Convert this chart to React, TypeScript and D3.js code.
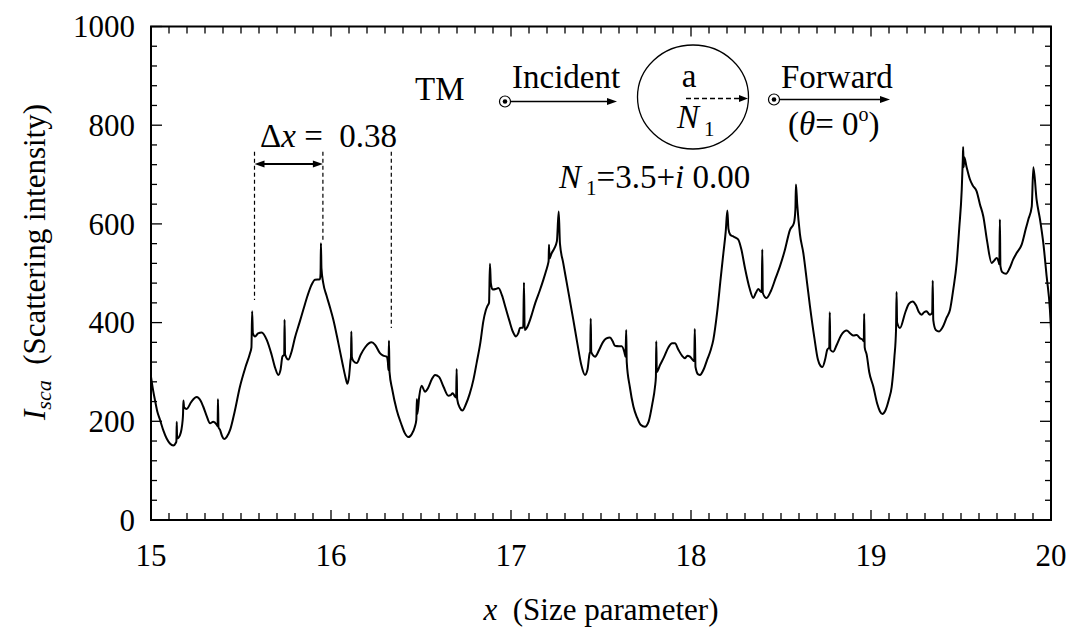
import React from 'react';
import * as d3 from 'd3';

// Size parameter x and scattering intensity I_sca
const sizeParam = [
  15.0, 15.012, 15.022, 15.035, 15.05, 15.07, 15.087, 15.105, 15.124, 15.139, 15.141, 15.143, 15.145, 15.161, 15.176, 15.178, 15.18, 15.184, 15.198, 15.225, 15.254, 15.275, 15.29, 15.31, 15.328, 15.346, 15.365, 15.37, 15.372, 15.375, 15.383, 15.395, 15.406, 15.42, 15.44, 15.465, 15.494, 15.525, 15.55, 15.558, 15.562, 15.566, 15.578, 15.595, 15.615, 15.643, 15.67, 15.69, 15.707, 15.72, 15.73, 15.74, 15.742, 15.745, 15.763, 15.78, 15.8, 15.825, 15.846, 15.87, 15.89, 15.911, 15.939, 15.942, 15.944, 15.947, 15.957, 15.975, 15.995, 16.013, 16.04, 16.065, 16.08, 16.091, 16.1, 16.109, 16.111, 16.113, 16.116, 16.125, 16.143, 16.165, 16.19, 16.21, 16.226, 16.245, 16.272, 16.29, 16.309, 16.316, 16.319, 16.322, 16.325, 16.34, 16.365, 16.39, 16.41, 16.43, 16.45, 16.465, 16.474, 16.477, 16.48, 16.49, 16.504, 16.522, 16.54, 16.56, 16.578, 16.6, 16.625, 16.652, 16.665, 16.676, 16.689, 16.695, 16.698, 16.701, 16.715, 16.73, 16.75, 16.77, 16.791, 16.81, 16.83, 16.846, 16.86, 16.868, 16.878, 16.883, 16.888, 16.898, 16.915, 16.93, 16.95, 16.97, 16.99, 17.01, 17.028, 17.04, 17.05, 17.068, 17.072, 17.076, 17.087, 17.11, 17.135, 17.16, 17.18, 17.195, 17.207, 17.209, 17.211, 17.214, 17.225, 17.24, 17.255, 17.265, 17.272, 17.29, 17.31, 17.346, 17.37, 17.39, 17.411, 17.425, 17.437, 17.44, 17.443, 17.446, 17.467, 17.49, 17.51, 17.53, 17.55, 17.565, 17.578, 17.6, 17.615, 17.63, 17.636, 17.64, 17.643, 17.66, 17.68, 17.7, 17.72, 17.744, 17.765, 17.785, 17.8, 17.805, 17.807, 17.81, 17.828, 17.85, 17.875, 17.895, 17.911, 17.93, 17.95, 17.967, 17.98, 17.994, 18.008, 18.013, 18.018, 18.021, 18.025, 18.04, 18.05, 18.07, 18.09, 18.11, 18.124, 18.145, 18.165, 18.18, 18.193, 18.202, 18.208, 18.218, 18.232, 18.248, 18.263, 18.28, 18.3, 18.325, 18.346, 18.36, 18.374, 18.387, 18.393, 18.396, 18.399, 18.42, 18.445, 18.47, 18.494, 18.52, 18.55, 18.572, 18.58, 18.583, 18.59, 18.605, 18.624, 18.645, 18.661, 18.685, 18.705, 18.72, 18.73, 18.745, 18.757, 18.768, 18.771, 18.774, 18.79, 18.81, 18.835, 18.865, 18.885, 18.902, 18.92, 18.94, 18.954, 18.96, 18.962, 18.965, 18.976, 18.99, 19.013, 19.035, 19.05, 19.063, 19.08, 19.1, 19.115, 19.13, 19.139, 19.142, 19.145, 19.161, 19.19, 19.21, 19.231, 19.25, 19.265, 19.281, 19.295, 19.309, 19.32, 19.328, 19.34, 19.343, 19.346, 19.36, 19.378, 19.4, 19.42, 19.439, 19.457, 19.476, 19.49, 19.504, 19.51, 19.512, 19.515, 19.518, 19.53, 19.55, 19.565, 19.587, 19.605, 19.624, 19.645, 19.67, 19.685, 19.698, 19.71, 19.713, 19.716, 19.719, 19.73, 19.75, 19.77, 19.79, 19.809, 19.837, 19.86, 19.874, 19.893, 19.902, 19.92, 19.939, 19.957, 19.976, 19.994, 20.0,
];
const intensity = [
  290, 262, 243, 220, 203, 180, 165, 155, 151, 157, 160, 199, 165, 172, 203, 215, 242, 228, 225, 240, 249, 242, 230, 210, 196, 199, 193, 190, 245, 188, 183, 170, 164, 168, 183, 220, 270, 310, 338, 350, 423, 378, 372, 378, 380, 365, 335, 308, 294, 305, 331, 335, 406, 335, 325, 340, 370, 400, 426, 455, 475, 487, 488, 500, 561, 510, 480, 455, 430, 406, 360, 315, 290, 276, 290, 325, 330, 382, 330, 322, 318, 335, 350, 358, 360, 355, 338, 333, 331, 320, 304, 363, 300, 265, 223, 195, 176, 168, 175, 188, 203, 245, 215, 250, 272, 260, 268, 285, 294, 290, 270, 252, 253, 257, 250, 248, 306, 245, 228, 222, 235, 255, 284, 320, 360, 402, 425, 433, 440, 519, 480, 467, 468, 470, 455, 430, 405, 382, 372, 378, 389, 390, 481, 385, 389, 410, 440, 465, 487, 505, 521, 525, 558, 530, 540, 550, 565, 625, 560, 521, 480, 406, 355, 315, 294, 305, 338, 340, 408, 340, 331, 345, 360, 368, 370, 362, 353, 352, 352, 340, 331, 385, 320, 270, 230, 208, 193, 189, 200, 235, 270, 290, 362, 300, 314, 330, 350, 358, 358, 345, 333, 328, 333, 331, 325, 323, 322, 387, 310, 295, 294, 305, 325, 345, 365, 420, 490, 541, 585, 627, 590, 578, 575, 572, 568, 548, 510, 470, 450, 460, 468, 463, 462, 548, 460, 450, 465, 490, 514, 545, 588, 602, 630, 680, 640, 580, 541, 480, 433, 370, 325, 312, 310, 325, 345, 350, 421, 345, 341, 355, 375, 384, 378, 374, 375, 368, 365, 362, 418, 350, 335, 300, 270, 235, 220, 215, 222, 245, 270, 330, 385, 462, 400, 389, 420, 438, 443, 435, 422, 416, 421, 423, 418, 416, 420, 485, 405, 385, 382, 392, 410, 426, 467, 521, 590, 669, 730, 756, 715, 735, 717, 690, 678, 666, 640, 615, 565, 521, 526, 531, 522, 518, 609, 515, 502, 499, 510, 528, 541, 558, 590, 609, 635, 715, 649, 609, 562, 493, 426, 385,
];

const xTickLabels = [15, 16, 17, 18, 19, 20];
const yTickLabels = [0, 200, 400, 600, 800, 1000];
// Delta-x guide lines (x positions and where each dashed line stops)
const guideX = [15.575, 15.955, 16.335];
const guideBottom = [446, 562, 389];
const guideTop = 746;

const FONT = '"Liberation Serif", "Times New Roman", Times, "DejaVu Serif", "Noto Serif", serif';

export default function App() {
  const left = 151, right = 1051, top = 26.5, bottom = 520;
  const x = d3.scaleLinear().domain([15, 20]).range([left, right]);
  const y = d3.scaleLinear().domain([0, 1000]).range([bottom, top]);
  const pts: [number, number][] = sizeParam.map((s, i) => [s, intensity[i]]);
  const line = d3.line<[number, number]>().x(d => x(d[0])).y(d => y(d[1])).curve(d3.curveMonotoneX);

  const xMinor = d3.range(0, 51).map(i => 15 + i * 0.1);
  const yMinor = d3.range(0, 1001, 40);

  const arrowHead = (tx: number, ty: number, dir: number, len = 10, half = 3.5) =>
    `M${tx},${ty} L${tx - dir * len},${ty - half} L${tx - dir * len},${ty + half} Z`;

  const ay = 164;
  const g0 = x(guideX[0]), g1 = x(guideX[1]);
  const ts = { fontFamily: FONT };

  return (
    <svg width={1072} height={638} style={{ position: 'absolute', left: 0, top: 0, background: '#fff', fontFamily: FONT }}>
      <rect x={0} y={0} width={1072} height={638} fill="#fff" />
      {/* ticks */}
      {xMinor.map((v, i) => {
        const major = i % 10 === 0;
        const L = major ? 10 : 7;
        return (
          <g key={'xt' + i} stroke="#000" strokeWidth={1.3}>
            <line x1={x(v)} x2={x(v)} y1={bottom} y2={bottom - L} />
            <line x1={x(v)} x2={x(v)} y1={top} y2={top + L} />
          </g>
        );
      })}
      {yMinor.map((v, i) => {
        const major = v % 200 === 0;
        const L = major ? 11 : 6;
        return (
          <g key={'yt' + i} stroke="#000" strokeWidth={1.3}>
            <line x1={left} x2={left + L} y1={y(v)} y2={y(v)} />
            <line x1={right} x2={right - L} y1={y(v)} y2={y(v)} />
          </g>
        );
      })}
      <rect x={left} y={top} width={right - left} height={bottom - top} fill="none" stroke="#000" strokeWidth={2} />

      {/* tick labels */}
      {xTickLabels.map(v => (
        <text key={'xl' + v} x={x(v)} y={566} textAnchor="middle" fontSize={31} style={ts}>{v}</text>
      ))}
      {yTickLabels.map(v => (
        <text key={'yl' + v} x={135} y={y(v)} dy="0.35em" textAnchor="end" fontSize={31} style={ts}>{v}</text>
      ))}

      {/* axis titles */}
      <text x={(left + right) / 2} y={620} textAnchor="middle" fontSize={31} xmlSpace="preserve" style={ts}>
        <tspan fontStyle="italic">x</tspan><tspan>{'  (Size parameter)'}</tspan>
      </text>
      <text transform={`translate(45,262) rotate(-90)`} textAnchor="middle" fontSize={31} xmlSpace="preserve" style={ts}>
        <tspan fontStyle="italic">I</tspan>
        <tspan fontStyle="italic" fontSize={22} dy={6}>sca</tspan>
        <tspan dy={-6}>{'  (Scattering intensity)'}</tspan>
      </text>

      {/* curve */}
      <path d={line(pts) || ''} fill="none" stroke="#000" strokeWidth={2} strokeLinejoin="round" />

      {/* delta x guides */}
      {guideX.map((gx, i) => (
        <line key={'g' + i} x1={x(gx)} x2={x(gx)} y1={y(guideTop)} y2={y(guideBottom[i])} stroke="#000" strokeWidth={1.2} strokeDasharray="4,3" />
      ))}
      <line x1={g0 + 8} x2={g1 - 8} y1={ay} y2={ay} stroke="#000" strokeWidth={2} />
      <path d={arrowHead(g0, ay, -1)} fill="#000" />
      <path d={arrowHead(g1, ay, 1)} fill="#000" />
      <text x={260} y={147} fontSize={33} xmlSpace="preserve" style={ts}>
        <tspan>Δ</tspan><tspan fontStyle="italic">x</tspan><tspan>{' =  0.38'}</tspan>
      </text>

      {/* inset diagram */}
      <text x={415} y={100} fontSize={33} style={ts}>TM</text>
      <circle cx={505} cy={101.5} r={5.5} fill="#fff" stroke="#000" strokeWidth={1.2} />
      <circle cx={505} cy={101.5} r={2.3} fill="#000" />
      <line x1={510.5} x2={609} y1={101.5} y2={101.5} stroke="#000" strokeWidth={1.3} />
      <path d={arrowHead(617, 101.5, 1, 10, 3.5)} fill="#000" />
      <text x={512} y={88} fontSize={33} style={ts}>Incident</text>

      <ellipse cx={693} cy={97} rx={55.5} ry={52} fill="none" stroke="#000" strokeWidth={1.3} />
      <text x={689} y={87} fontSize={33} textAnchor="middle" style={ts}>a</text>
      <line x1={686} x2={740} y1={98.5} y2={98.5} stroke="#000" strokeWidth={1.3} strokeDasharray="5,3" />
      <path d={arrowHead(748, 98.5, 1, 9, 3.5)} fill="#000" />
      <text x={677} y={128} fontSize={33} style={ts}>
        <tspan fontStyle="italic">N</tspan>
        <tspan fontSize={21} dx={5} dy={8}>1</tspan>
      </text>

      <circle cx={774} cy={99.5} r={5.5} fill="#fff" stroke="#000" strokeWidth={1.2} />
      <circle cx={774} cy={99.5} r={2.3} fill="#000" />
      <line x1={779.5} x2={882} y1={99.5} y2={99.5} stroke="#000" strokeWidth={1.3} />
      <path d={arrowHead(890, 99.5, 1, 10, 3.5)} fill="#000" />
      <text x={781} y={88} fontSize={33} style={ts}>Forward</text>
      <text x={788} y={135} fontSize={33} xmlSpace="preserve" style={ts}>
        <tspan>(</tspan><tspan fontStyle="italic">θ</tspan><tspan>{'= 0'}</tspan>
        <tspan fontSize={20} dy={-14}>o</tspan><tspan dy={14}>)</tspan>
      </text>

      <text x={559} y={188} fontSize={33} xmlSpace="preserve" style={ts}>
        <tspan fontStyle="italic">N</tspan>
        <tspan fontSize={21} dx={5} dy={7}>1</tspan>
        <tspan dy={-7}>=3.5+</tspan><tspan fontStyle="italic">i</tspan><tspan>{' 0.00'}</tspan>
      </text>
    </svg>
  );
}
